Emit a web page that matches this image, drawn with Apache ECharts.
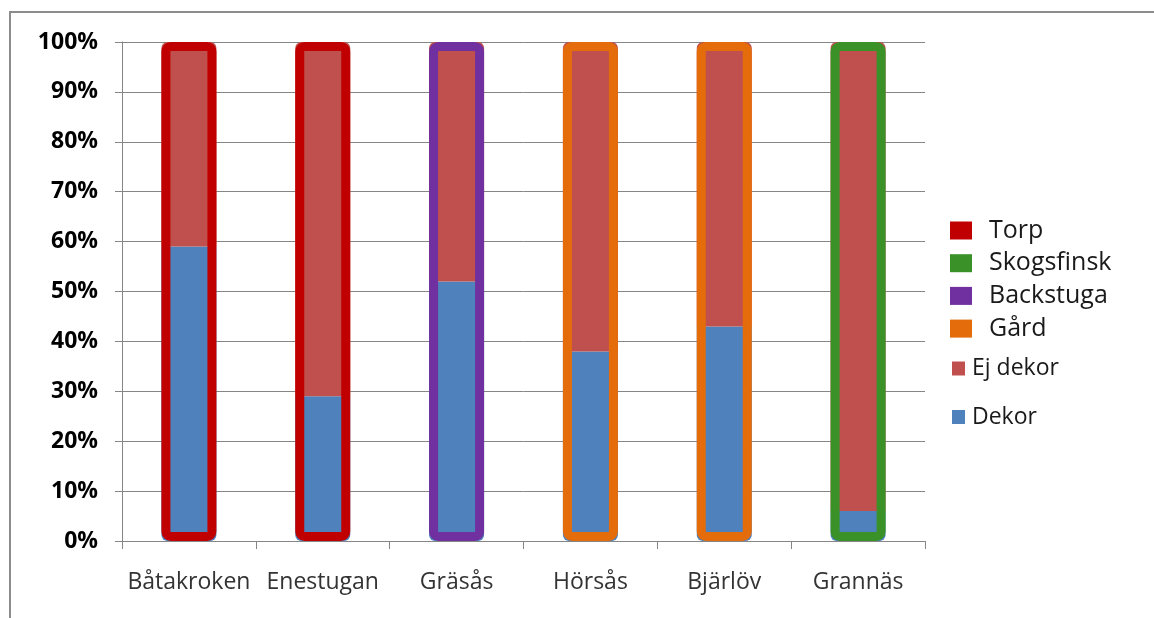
<!DOCTYPE html>
<html lang="sv">
<head>
  <meta charset="UTF-8">
  <title>Dekor per plats</title>
  <style type="text/css">
    html, body { margin: 0; padding: 0; background: #fff; }
    #main { width: 1154px; height: 618px; }
  </style>
</head>
<body>
  <div id="main"></div>
  <script type="text/javascript" src="https://cdn.jsdelivr.net/npm/echarts@6/dist/echarts.min.js"></script>
  <script type="text/javascript">
    // data (percent)
    var places = ['Båtakroken', 'Enestugan', 'Gräsås', 'Hörsås', 'Bjärlöv', 'Grannäs']
    var dekor = [59, 29, 52, 38, 43, 6]
    var ejDekor = [41, 71, 48, 62, 57, 94]
    // which house type each place is (outline colour)
    var houseTypes = ['Torp', 'Skogsfinsk', 'Backstuga', 'Gård']
    var placeType = ['Torp', 'Torp', 'Backstuga', 'Gård', 'Gård', 'Skogsfinsk']
    var typeColors = { 'Torp': '#C00000', 'Skogsfinsk': '#3A9128', 'Backstuga': '#7030A0', 'Gård': '#E46C0A' }

    var font = '"Open Sans", Lato, sans-serif'
    var myChart = echarts.init(document.getElementById('main'))

    var series = [{
      name: 'Dekor',
      type: 'bar',
      stack: 'a',
      barWidth: 55,
      barGap: '-100%',
      itemStyle: { color: '#4F81BD', borderRadius: [0, 0, 6, 6] },
      data: dekor
    }, {
      name: 'Ej dekor',
      type: 'bar',
      stack: 'a',
      barWidth: 55,
      barGap: '-100%',
      itemStyle: { color: '#C0504D', borderRadius: [6, 6, 0, 0] },
      data: ejDekor
    }]
    // outline boxes, one series per house type
    houseTypes.forEach(function (t) {
      series.push({
        name: t,
        type: 'bar',
        barWidth: 55,
        barGap: '-100%',
        clip: false,
        z: 5,
        itemStyle: {
          color: 'transparent',
          borderColor: typeColors[t],
          borderWidth: 9,
          borderRadius: 5
        },
        data: placeType.map(function (p, i) {
          return p === t ? dekor[i] + ejDekor[i] : '-'
        })
      })
    })

    var option = {
      animation: false,
      textStyle: { fontFamily: font },
      grid: { left: 122, right: 229, top: 42, bottom: 77 },
      graphic: [{
        type: 'rect',
        shape: { x: 10, y: 12, width: 1300, height: 800 },
        style: { fill: 'none', stroke: '#8c8c8c', lineWidth: 2 },
        silent: true
      }],
      legend: [{
        data: houseTypes.map(function (t) {
          return { name: t, itemStyle: { color: typeColors[t], borderWidth: 0 } }
        }),
        orient: 'vertical',
        left: 945,
        top: 213,
        itemWidth: 22,
        itemHeight: 18,
        itemGap: 7.7,
        icon: 'rect',
        textStyle: { fontSize: 25, color: '#1a1a1a', fontFamily: font, padding: [0, 0, 0, 12] }
      }, {
        data: ['Ej dekor', 'Dekor'],
        orient: 'vertical',
        left: 947,
        top: 352,
        itemWidth: 13,
        itemHeight: 14,
        itemGap: 25.5,
        icon: 'rect',
        textStyle: { fontSize: 23, color: '#1a1a1a', fontFamily: font, padding: [0, 0, 0, 2] }
      }],
      xAxis: {
        type: 'category',
        data: places,
        axisLine: { lineStyle: { color: '#868686' } },
        axisTick: { show: true, interval: 0, length: 8, lineStyle: { color: '#868686' } },
        axisLabel: { interval: 0, fontSize: 23, color: '#333', margin: 30 }
      },
      yAxis: {
        type: 'value',
        min: 0,
        max: 100,
        interval: 10,
        axisLine: { show: true, lineStyle: { color: '#868686' } },
        axisTick: { show: true, length: 7, lineStyle: { color: '#868686' } },
        splitLine: { lineStyle: { color: '#868686' } },
        axisLabel: {
          fontSize: 23,
          fontWeight: 'bold',
          color: '#000',
          margin: 24,
          formatter: '{value}%'
        }
      },
      series: series
    }
    myChart.setOption(option)
  </script>
</body>
</html>
